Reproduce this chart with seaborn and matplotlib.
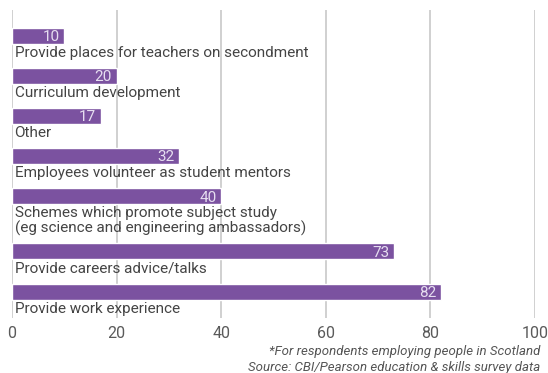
import matplotlib
matplotlib.use("Agg")
import matplotlib.pyplot as plt
import seaborn as sns
import pandas as pd
import numpy as np

categories = [
    "Provide places for teachers on secondment",
    "Curriculum development",
    "Other",
    "Employees volunteer as student mentors",
    "Schemes which promote subject study\n(eg science and engineering ambassadors)",
    "Provide careers advice/talks",
    "Provide work experience",
]
values = [10, 20, 17, 32, 40, 73, 82]
x_ticks = [0, 20, 40, 60, 80, 100]
footnotes = [
    "*For respondents employing people in Scotland",
    "Source: CBI/Pearson education & skills survey data",
]

BAR_COLOR = "#7b52a0"
TEXT_COLOR = "#444444"
GRID_COLOR = "#d0d0d0"
EXTRA_LINE = 0.375  # extra row space for each additional label line

# row positions: each category takes one row, plus room for wrapped labels
positions = []
pos = 0.0
for label in categories:
    positions.append(pos)
    pos += 1.0 + EXTRA_LINE * label.count("\n")

df = pd.DataFrame({"pos": positions, "value": values, "label": categories})

sns.set_theme(style="white")
plt.rcParams["font.family"] = ["Roboto", "DejaVu Sans"]

fig = plt.figure(figsize=(5.48, 3.73), dpi=100)
ax = fig.add_axes([12 / 548, 55 / 373, (535 - 12) / 548, (318 - 10) / 373])

sns.barplot(data=df, x="value", y="pos", orient="h", native_scale=True,
            color=BAR_COLOR, saturation=1, width=0.4, ax=ax, zorder=3)

for p, v, lab in zip(df["pos"], df["value"], df["label"]):
    ax.text(v - 0.9, p + 0.03, str(v), ha="right", va="center",
            color="#e6def0", fontsize=11, zorder=4)
    ax.text(0.5, p + 0.25, lab, ha="left", va="top", color=TEXT_COLOR,
            fontsize=11, linespacing=1.0, zorder=4)

ax.set_xlim(0, 100)
ax.set_ylim(positions[-1] + 0.66, positions[0] - 0.65)
ax.set_xticks(x_ticks)
ax.set_xticklabels([str(t) for t in x_ticks])
ax.set_yticks([])
ax.set_xlabel("")
ax.set_ylabel("")
ax.xaxis.grid(True, color=GRID_COLOR, linewidth=1.4, zorder=0)
ax.set_axisbelow(True)
for s in ax.spines.values():
    s.set_visible(False)
ax.tick_params(axis="x", length=0, pad=6, labelsize=11.5, labelcolor="#5a5a5a")

fig.text(540 / 548, 1 - 351 / 373, footnotes[0], ha="right", va="center",
         style="italic", color="#555555", fontsize=9.5)
fig.text(540 / 548, 1 - 368 / 373, footnotes[1], ha="right", va="center",
         style="italic", color="#555555", fontsize=9.5)

fig.savefig("out.png", dpi=100)
